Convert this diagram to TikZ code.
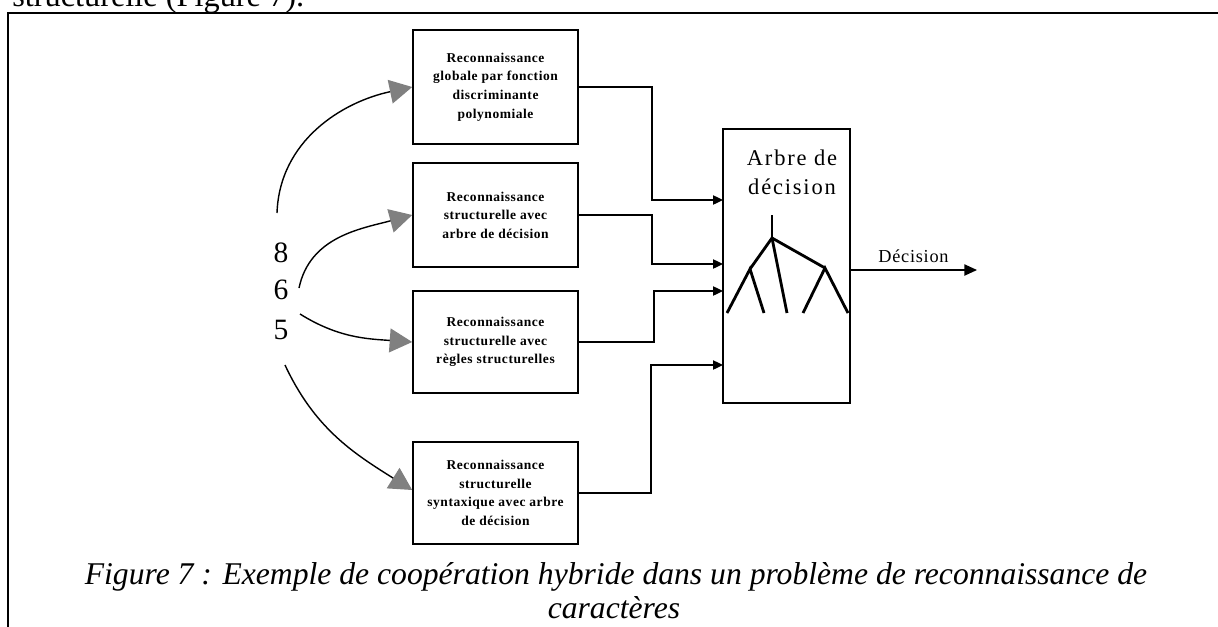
\documentclass[tikz,border=0pt]{standalone}
\usepackage{fontspec}
\setmainfont{Liberation Serif}
\usetikzlibrary{arrows.meta}

\begin{document}
\begin{tikzpicture}[x=0.025cm, y=-0.025cm,
    box/.style={draw, line width=1.1pt, inner sep=0pt, minimum width=4.125cm, align=center,
      font=\fontsize{9.6}{13.2}\selectfont\bfseries\addfontfeature{LetterSpace=4}},
    flow/.style={line width=1pt, -{Triangle[length=7pt, width=6.5pt]}},
    feed/.style={line width=1pt, -{Triangle[length=16pt, width=17pt, color=black!50]}},
    num/.style={font=\fontsize{21}{21}\selectfont, inner sep=0pt},
    leg/.style={font=\fontsize{22.5}{27}\selectfont\itshape, inner sep=0pt, anchor=base}]
      \useasboundingbox (0,0) rectangle (1218,626);
      \clip (0,0) rectangle (1218,626);

      % cadre de la figure
      \node[anchor=base west, inner sep=0pt, font=\fontsize{23}{23}\selectfont] (prev) at (12,6) {structurelle (Figure 7).};
      \draw[line width=1.6pt] (8,640) -- (8,13) -- (1230,13);

      % les quatre reconnaisseurs
      \node[box, minimum height=2.85cm] (r1) at (495.5,87) {Reconnaissance\\globale par fonction\\discriminante\\polynomiale};
      \node[box, minimum height=2.6cm] (r2) at (495.5,215) {Reconnaissance\\structurelle avec\\arbre de décision};
      \node[box, minimum height=2.55cm] (r3) at (495.5,342) {Reconnaissance\\structurelle avec\\règles structurelles};
      \node[box, minimum height=2.55cm] (r4) at (495.5,493) {Reconnaissance\\structurelle\\syntaxique avec arbre\\de décision};

      % arbre de decision
      \node[draw, line width=1.1pt, minimum width=3.175cm, minimum height=6.85cm, inner sep=0pt] (ad) at (786.5,266) {};
      \node[align=center, font=\fontsize{16}{20.6}\selectfont\addfontfeature{LetterSpace=8}, inner sep=0pt] (adt) at (792,172) {Arbre de\\décision};
      \draw[line width=2pt] (772,215) -- (772,238);
      \draw[line width=2pt] (750,269) -- (772,238) -- (825,268);
      \draw[line width=2pt] (772,238) -- (787,313);
      \draw[line width=2pt] (727,313) -- (750,269) -- (764,313);
      \draw[line width=2pt] (803,313) -- (825,268) -- (848,313);

      \coordinate (e1) at (723,200);
      \coordinate (e2) at (723,264);
      \coordinate (e3) at (723,291);
      \coordinate (e4) at (723,365);
      \draw[flow] (r1.east) -- ++(73,0) |- (e1);
      \draw[flow] (r2.east) -- ++(73,0) |- (e2);
      \draw[flow] (r3.east) -- ++(75,0) |- (e3);
      \draw[flow] (r4.east) -- ++(72,0) |- (e4);

      % sortie
      \coordinate (s) at (850,270);
      \coordinate (d) at (977,270);
      \draw[line width=1pt, -{Triangle[length=9pt, width=8pt]}] (s) -- node[above=5pt, font=\fontsize{13}{13}\selectfont\addfontfeature{LetterSpace=4}, inner sep=0pt] (dl) {Décision} (d);

      % les chiffres
      \node[num] (n8) at (281,253) {8};
      \node[num] (n6) at (281,290) {6};
      \node[num] (n5) at (281,330) {5};

      \coordinate (a1) at (277,213);
      \coordinate (a2) at (299,288);
      \coordinate (a3) at (300,314);
      \coordinate (a4) at (285,365);
      \draw[feed] (a1) to[out=88, in=192] (r1.west);
      \draw[feed] (a2) to[out=78, in=195] (r2.west);
      \draw[feed] (a3) to[out=-32, in=176] (r3.west);
      \draw[feed] (a4) to[out=-65, in=148] ([yshift=0.075cm]r4.west);

      % legende
      \node[leg] (leg1) at (616,584) {Figure 7 : Exemple de coopération hybride dans un problème de reconnaissance de};
      \node[leg] (leg2) at (614,618) {caractères};
    \end{tikzpicture}
\end{document}
